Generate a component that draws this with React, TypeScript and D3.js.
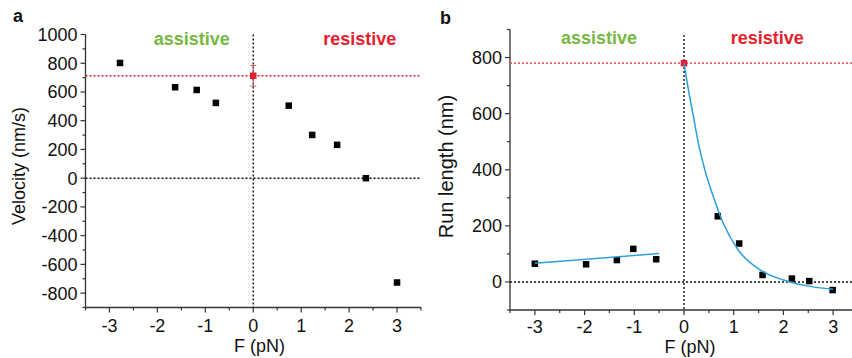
import React from "react";
import * as d3 from "d3";

// Panel a: velocity vs force
const forceA = [-2.78, -1.63, -1.18, -0.78, 0.74, 1.23, 1.75, 2.35, 3.0];
const velocityA = [802, 633, 614, 524, 505, 301, 232, 0, -726];
const zeroForceVelocity = 713;
const zeroForceVelocityErr = 72;

// Panel b: run length vs force
const forceB = [-3.0, -1.97, -1.35, -1.02, -0.56, 0.68, 1.11, 1.58, 2.17, 2.52, 2.99];
const runLengthB = [65, 63, 78, 118, 81, 234, 137, 25, 12, 3, -29];
const zeroForceRunLength = 780;

// Fitted lines
const linFitF = [-3.0, -0.5];
const linFitL = [67, 101];
const expFitF = [0, 0.09, 0.19, 0.29, 0.42, 0.59, 0.79, 1.09, 1.53, 2.0, 2.47, 3.0];
const expFitL = [780, 684, 589, 494, 399, 304, 209, 114, 43, 7, -14, -26];

const xTicks = [-3, -2, -1, 0, 1, 2, 3];
const yTicksA = [-800, -600, -400, -200, 0, 200, 400, 600, 800, 1000];
const yTicksB = [0, 200, 400, 600, 800];

const GREEN = "#77b843";
const RED = "#e41f2d";
const BLUE = "#2a9fd8";
const AXIS = "#333";
const FONT = "'Liberation Sans', Arial, sans-serif";

function Axes({ x, y, xMinor, yMinor, yTicks, labelOffset }: any) {
  const [x0, x1] = x.range();
  const [y0, y1] = y.range();
  return (
    <g>
      <line x1={x0} x2={x0} y1={y0} y2={y1} stroke={AXIS} strokeWidth={1.3} />
      <line x1={x0} x2={x1} y1={y0} y2={y0} stroke={AXIS} strokeWidth={1.3} />
      {xMinor.map((v: number) => (
        <line key={"xm" + v} x1={x(v)} x2={x(v)} y1={y0} y2={y0 + 3} stroke={AXIS} strokeWidth={1.2} />
      ))}
      {xTicks.map((v) => (
        <g key={"x" + v}>
          <line x1={x(v)} x2={x(v)} y1={y0} y2={y0 + 5} stroke={AXIS} strokeWidth={1.2} />
          <text x={x(v)} y={y0 + labelOffset} textAnchor="middle" fontSize={18} fill="#111">
            {v}
          </text>
        </g>
      ))}
      {yMinor.map((v: number) => (
        <line key={"ym" + v} x1={x0} x2={x0 - 3} y1={y(v)} y2={y(v)} stroke={AXIS} strokeWidth={1.2} />
      ))}
      {yTicks.map((v: number) => (
        <g key={"y" + v}>
          <line x1={x0} x2={x0 - 5} y1={y(v)} y2={y(v)} stroke={AXIS} strokeWidth={1.2} />
          <text x={x0 - 8} y={y(v)} dy="0.36em" textAnchor="end" fontSize={18} fill="#111">
            {v}
          </text>
        </g>
      ))}
    </g>
  );
}

export default function App() {
  // Panel a scales
  const xa = d3.scaleLinear().domain([-3.5, 3.5]).range([85.5, 421]);
  const ya = d3.scaleLinear().domain([-900, 1000]).range([307.5, 34.5]);
  // Panel b scales
  const xb = d3.scaleLinear().domain([-3.5, 3.5]).range([510, 858]);
  const yb = d3.scaleLinear().domain([-100, 900]).range([310, 29.5]);

  const halfTicks = d3.range(-3.5, 3.51, 0.5).filter((v) => !Number.isInteger(v));
  const yMinorA = d3.range(-900, 1001, 100).filter((v) => v % 200 !== 0);
  const yMinorB = d3.range(-100, 901, 100).filter((v) => v % 200 !== 0);

  const sq = 6.5;
  const dash = "2,2";
  const dw = 1.4;

  const lineB = d3
    .line<number>()
    .x((_, i) => xb(linFitF[i]))
    .y((d) => yb(d));
  const expLine = d3
    .line<number>()
    .x((_, i) => xb(expFitF[i]))
    .y((d) => yb(d))
    .curve(d3.curveMonotoneX);

  return (
    <svg
      width={852}
      height={358}
      style={{ position: "absolute", left: 0, top: 0, background: "#fff" }}
      fontFamily={FONT}
    >
      <rect width={852} height={358} fill="#fff" />
      {/* Panel a */}
      <text x={13} y={22} fontSize={18} fontWeight="bold" fill="#111">a</text>
      <text x={191.7} y={45} textAnchor="middle" fontSize={18} fontWeight="bold" fill={GREEN}>assistive</text>
      <text x={359.7} y={45} textAnchor="middle" fontSize={18} fontWeight="bold" fill={RED}>resistive</text>
      <Axes x={xa} y={ya} xMinor={halfTicks} yMinor={yMinorA} yTicks={yTicksA} labelOffset={24.5} />
      <line x1={xa(0)} x2={xa(0)} y1={ya(1000)} y2={ya(-900)} stroke="#111" strokeWidth={dw} strokeDasharray={dash} />
      <line x1={xa(-3.5)} x2={xa(3.5)} y1={ya(0)} y2={ya(0)} stroke="#111" strokeWidth={dw} strokeDasharray={dash} />
      <line x1={xa(-3.5)} x2={xa(3.5)} y1={ya(zeroForceVelocity)} y2={ya(zeroForceVelocity)} stroke={RED} strokeWidth={dw} strokeDasharray={dash} />
      {forceA.map((f, i) => (
        <rect key={"a" + i} x={xa(f) - sq / 2} y={ya(velocityA[i]) - sq / 2} width={sq} height={sq} fill="#000" />
      ))}
      <g stroke="#c05a5a" strokeWidth={1}>
        <line x1={xa(0)} x2={xa(0)} y1={ya(zeroForceVelocity + zeroForceVelocityErr)} y2={ya(zeroForceVelocity - zeroForceVelocityErr)} />
        <line x1={xa(0) - 3} x2={xa(0) + 3} y1={ya(zeroForceVelocity + zeroForceVelocityErr)} y2={ya(zeroForceVelocity + zeroForceVelocityErr)} />
        <line x1={xa(0) - 3} x2={xa(0) + 3} y1={ya(zeroForceVelocity - zeroForceVelocityErr)} y2={ya(zeroForceVelocity - zeroForceVelocityErr)} />
      </g>
      <rect x={xa(0) - sq / 2} y={ya(zeroForceVelocity) - sq / 2} width={sq} height={sq} fill={RED} />
      <text x={259.6} y={351.5} textAnchor="middle" fontSize={18} fill="#111">F (pN)</text>
      <text transform={`translate(25,166) rotate(-90)`} textAnchor="middle" fontSize={18} fill="#111">Velocity (nm/s)</text>

      {/* Panel b */}
      <text x={440} y={24} fontSize={18} fontWeight="bold" fill="#111">b</text>
      <text x={599} y={44} textAnchor="middle" fontSize={18} fontWeight="bold" fill={GREEN}>assistive</text>
      <text x={767.3} y={44} textAnchor="middle" fontSize={18} fontWeight="bold" fill={RED}>resistive</text>
      <Axes x={xb} y={yb} xMinor={halfTicks} yMinor={yMinorB} yTicks={yTicksB} labelOffset={23} />
      <line x1={xb(0)} x2={xb(0)} y1={yb(880)} y2={yb(-100)} stroke="#111" strokeWidth={dw} strokeDasharray={dash} />
      <line x1={xb(-3.5)} x2={xb(3.5)} y1={yb(0)} y2={yb(0)} stroke="#111" strokeWidth={dw} strokeDasharray={dash} />
      <line x1={xb(-3.5)} x2={xb(3.5)} y1={yb(zeroForceRunLength)} y2={yb(zeroForceRunLength)} stroke={RED} strokeWidth={dw} strokeDasharray={dash} />
      {forceB.map((f, i) => (
        <rect key={"b" + i} x={xb(f) - sq / 2} y={yb(runLengthB[i]) - sq / 2} width={sq} height={sq} fill="#000" />
      ))}
      <rect x={xb(0) - sq / 2} y={yb(zeroForceRunLength) - sq / 2} width={sq} height={sq} fill={RED} />
      <path d={lineB(linFitL) || ""} fill="none" stroke={BLUE} strokeWidth={1.5} />
      <path d={expLine(expFitL) || ""} fill="none" stroke={BLUE} strokeWidth={1.5} />
      <text x={690} y={353} textAnchor="middle" fontSize={18} fill="#111">F (pN)</text>
      <text transform={`translate(453,166.5) rotate(-90)`} textAnchor="middle" fontSize={20} fill="#111">Run length (nm)</text>
    </svg>
  );
}
